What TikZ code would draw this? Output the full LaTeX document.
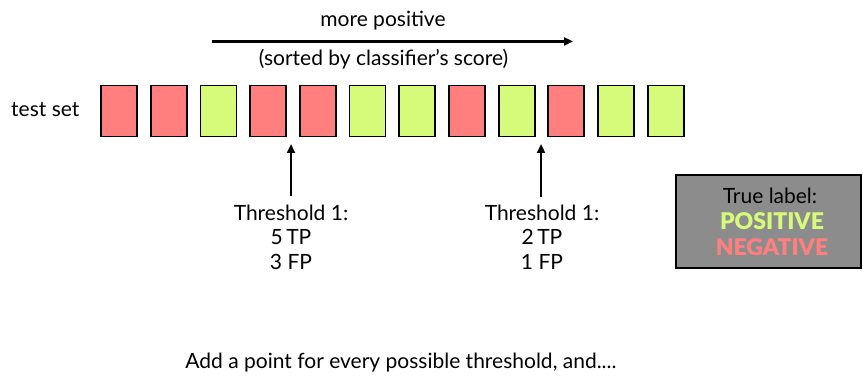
\documentclass[tikz,border=0pt]{standalone}
\usepackage{fontspec}
\setmainfont{Lato}
\newfontfamily\heavyfont{Lato Black}
\usetikzlibrary{arrows.meta}
\definecolor{negred}{HTML}{FF7F7F}
\definecolor{posgreen}{HTML}{D6FA7A}
\definecolor{legendgray}{HTML}{8C8C8C}
\tikzset{
  itembox/.style={draw=black, line width=1.8pt, minimum width=36pt, minimum height=51pt, inner sep=0pt},
  negbox/.style={itembox, fill=negred},
  posbox/.style={itembox, fill=posgreen},
  lbl/.style={font=\fontsize{21}{24.5}\selectfont, inner sep=0pt, align=center},
  hv/.style={font=\fontsize{23}{24}\selectfont\heavyfont, inner sep=0pt},
  arr/.style={line width=2.3pt, -{Triangle[length=9pt,width=8pt]}},
}
\begin{document}
\begin{tikzpicture}[x=1pt,y=-1pt]
\useasboundingbox (0,0) rectangle (863,382);
% title arrow
\node[lbl] (more) at (383,21) {more positive};
\node[lbl] (sorted) at (383.5,59) {(sorted by classifier’s score)};
\coordinate (as) at (212,41.5);
\coordinate (ae) at (573,41.5);
\draw[arr] (as) -- (ae);
% test set
\node[lbl, anchor=west] (ts) at (11,110) {test set};
\foreach \i/\s in {0/negbox,1/negbox,2/posbox,3/negbox,4/negbox,5/posbox,6/posbox,7/negbox,8/posbox,9/negbox,10/posbox,11/posbox}{
  \node[\s] (b\i) at ({119+\i*49.7},111) {};
}
% thresholds
\node[lbl] (t1) at (291,237) {Threshold 1:\\5\,TP\\3 FP};
\node[lbl] (t2) at (542,237) {Threshold 1:\\2\,TP\\1 FP};
\coordinate (p1) at (291,144);
\coordinate (p2) at (541,144);
\draw[arr] (t1.north -| p1) ++(0,-8) -- (p1);
\draw[arr] (t2.north -| p2) ++(0,-8) -- (p2);
% legend
\node[draw=black, line width=2pt, fill=legendgray, minimum width=185pt, minimum height=93pt, inner sep=0pt] (leg) at (768,222) {};
\node[lbl] (tl) at (770,196) {True label:};
\node[hv, text=posgreen] (lp) at (772,221.5) {POSITIVE};
\node[hv, text=negred] (ln) at (772,247.5) {NEGATIVE};
% bottom
\node[lbl] (bottom) at (401,363) {Add a point for every possible threshold, and....};
\end{tikzpicture}
\end{document}
